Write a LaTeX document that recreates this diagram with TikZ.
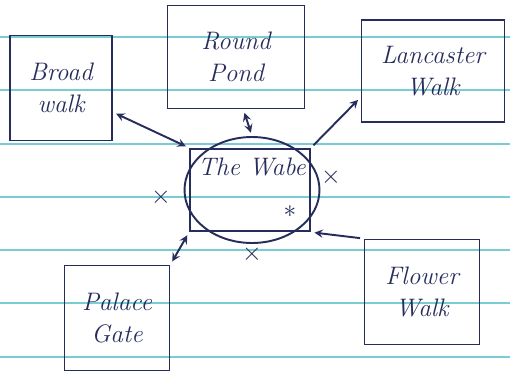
\documentclass[tikz,border=0pt]{standalone}
\usetikzlibrary{shapes.geometric,arrows,scopes}
\definecolor{inkblue}{RGB}{38,44,92}
\definecolor{rulecyan}{RGB}{120,205,212}

\begin{document}
\begin{tikzpicture}[
    x=0.02cm,y=-0.02cm,
    ink/.style={draw=inkblue,line width=1.1pt},
    place/.style={rectangle,ink,align=center,font=\Large\itshape,text=inkblue},
    ring/.style={ellipse,ink,minimum width=2.7cm,minimum height=2.12cm},
    route/.style={ink,>=stealth,shorten <=2pt,shorten >=2pt},
    rule/.style={draw=rulecyan,semithick},
    cross/.style={text=inkblue,font=\Large},
	]
\def\paperw{510}
\def\paperh{379}

    %% Ruled paper
    \useasboundingbox (0,0) rectangle (\paperw,\paperh);
    \foreach \y in {37,90,144,197,250,303,357}
        \draw[rule] (0,\y) -- (\paperw,\y);

    %% The centre: box and ring
    \node[ring] (ring) at (252,190) {};
    \node[place,minimum width=2.4cm,minimum height=1.65cm] (wabe) at (250,190) {};
    \node[text=inkblue,font=\Large\itshape] (wabetxt) at (252,167) {The Wabe};

    %% Places round it
    \node[place,minimum width=2.04cm,minimum height=2.1cm] (broad) at (61,88) {Broad\\walk};
    \node[place,minimum width=2.74cm,minimum height=2.06cm] (pond) at (236,57) {Round\\Pond};
    \node[place,minimum width=2.86cm,minimum height=2.04cm] (lanc) at (433,71) {Lancaster\\Walk};
    \node[place,minimum width=2.3cm,minimum height=2.1cm] (flower) at (422,292) {Flower\\Walk};
    \node[place,minimum width=2.1cm,minimum height=2.1cm] (palace) at (117,318) {Palace\\Gate};

    % Routes. Two way ones first
    {[route,<->]
        \draw (broad.-25) -- (wabe.north west);
        \draw (pond.-82) -- (ring.north);
        \draw (palace.north east) -- (wabe.south west);
    }
    \draw[route,->] (wabe.north east) -- (lanc.-160);
    \draw[route,->] (flower.north west) -- (wabe.south east);

    %% Marks round the ring
    \node[cross] (xleft) at (161,197) {$\times$};
    \node[cross] (xright) at (331,177) {$\times$};
    \node[cross] (xbelow) at (252,254) {$\times$};
    \node[cross] (star) at (290,212) {$\ast$};
\end{tikzpicture}
\end{document}
